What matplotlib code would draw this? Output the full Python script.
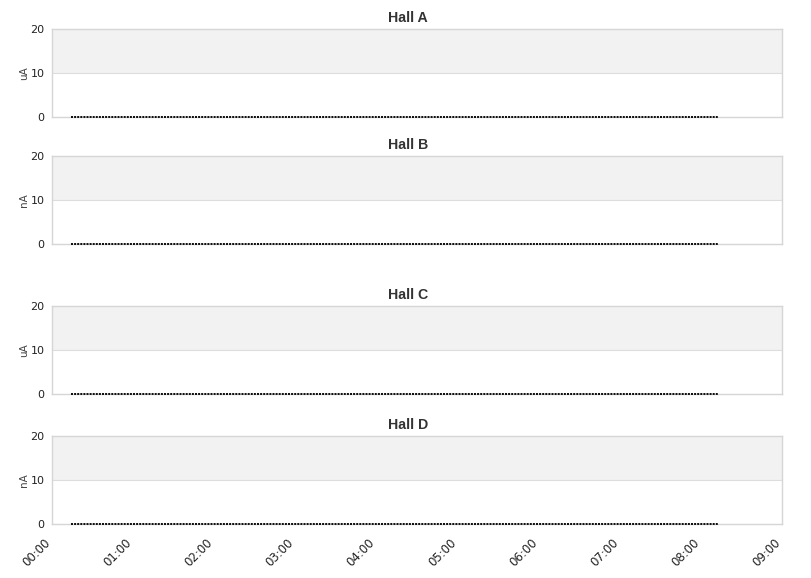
import matplotlib
matplotlib.use("Agg")
import matplotlib.pyplot as plt
import matplotlib.transforms as mtrans
import pandas as pd

# ---- data ----
halls = ["Hall A", "Hall B", "Hall C", "Hall D"]
units = ["uA", "nA", "uA", "nA"]
sample_times = ["00:14", "00:44", "01:14", "01:44", "02:14", "02:44", "03:14", "03:44",
                "04:14", "04:44", "05:14", "05:44", "06:14", "06:44", "07:14", "07:44", "08:13"]
current_a = [0, 0, 0, 0, 0, 0, 0, 0, 0, 0, 0, 0, 0, 0, 0, 0, 0]
current_b = [0, 0, 0, 0, 0, 0, 0, 0, 0, 0, 0, 0, 0, 0, 0, 0, 0]
current_c = [0, 0, 0, 0, 0, 0, 0, 0, 0, 0, 0, 0, 0, 0, 0, 0, 0]
current_d = [0, 0, 0, 0, 0, 0, 0, 0, 0, 0, 0, 0, 0, 0, 0, 0, 0]
series = [current_a, current_b, current_c, current_d]
y_ticks = [0, 10, 20]
x_tick_labels = ["00:00", "01:00", "02:00", "03:00", "04:00", "05:00", "06:00", "07:00", "08:00", "09:00"]

plt.rcParams["font.family"] = ["DejaVu Sans"]

day = "2024-01-01 "
times = pd.to_datetime([day + t for t in sample_times])
xt = pd.to_datetime([day + t for t in x_tick_labels])

fig = plt.figure(figsize=(8.11, 5.78), dpi=100)
W, H = 811, 578
left, right = 52, 782
panels_px = [(29, 117), (156, 244), (306, 394), (436, 524)]

grid_col = "#dddddd"
for i, (top, bot) in enumerate(panels_px):
    ax = fig.add_axes([left / W, 1 - bot / H, (right - left) / W, (bot - top) / H])
    ax.set_xlim(xt[0], xt[-1])
    ax.set_ylim(0, 20)
    ax.axhspan(10, 20, color="#f2f2f2", zorder=0, lw=0)
    ax.axhline(10, color=grid_col, lw=0.8, zorder=1)
    ax.plot(times, series[i], color="#111111", lw=1.44, linestyle=(0, (1, 0.55)), zorder=3,
            dash_capstyle="butt", clip_on=False)
    for s in ax.spines.values():
        s.set_color("#d6d6d6")
        s.set_linewidth(1.0)
    ax.set_yticks(y_ticks)
    ax.tick_params(axis="y", length=0, labelsize=8, labelcolor="#222222", pad=5.5)
    ax.set_ylabel(units[i], fontsize=7.5, color="#444444", labelpad=1)
    ax.set_title(halls[i], fontsize=10.2, fontweight="bold", color="#333333",
                 family="Liberation Sans", pad=5, x=(408 - left) / (right - left))
    ax.set_xticks(xt)
    if i == 3:
        labs = ax.set_xticklabels(x_tick_labels, rotation=45, ha="right", va="top",
                                  rotation_mode="anchor", fontsize=8.5, color="#222222")
        ax.tick_params(axis="x", length=0, pad=8.5)
        off = mtrans.ScaledTranslation(-8 / 100, 0, fig.dpi_scale_trans)
        for lab in labs:
            lab.set_transform(lab.get_transform() + off)
    else:
        ax.tick_params(axis="x", length=0, labelbottom=False)

fig.savefig("out.png", dpi=100)
